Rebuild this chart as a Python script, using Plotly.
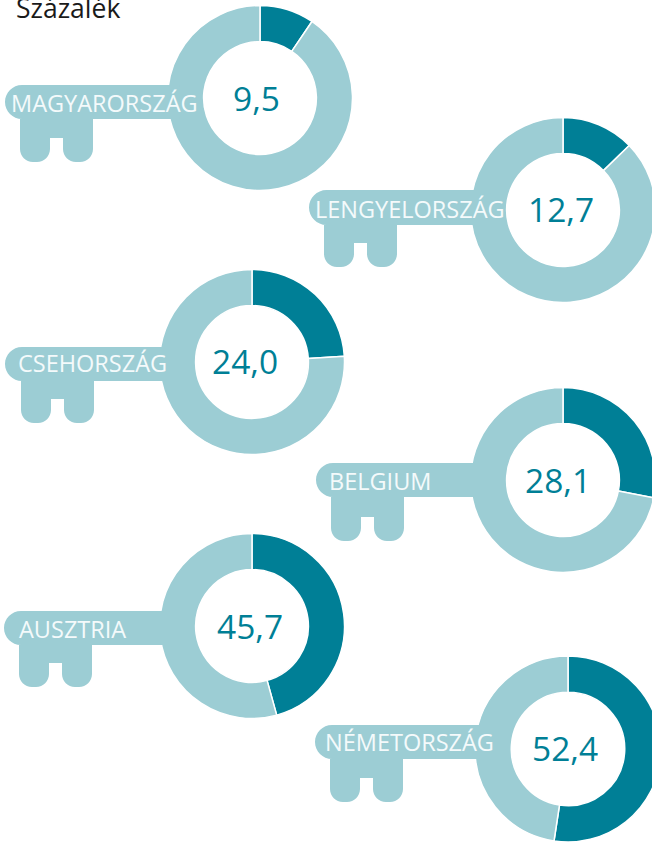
import plotly.graph_objects as go

countries = ["MAGYARORSZÁG", "LENGYELORSZÁG", "CSEHORSZÁG", "BELGIUM", "AUSZTRIA", "NÉMETORSZÁG"]
values = [9.5, 12.7, 24.0, 28.1, 45.7, 52.4]
value_labels = ["9,5", "12,7", "24,0", "28,1", "45,7", "52,4"]
title_text = "Százalék"

W, H = 672, 843
DARK, LIGHT = "#007f96", "#9ccdd4"
FONT = "Open Sans"

# layout in page pixels: ring centre and radius
rings = [(260, 98, 92.5), (563, 210, 92.5), (252, 362, 92.5),
         (563, 480, 92.5), (252, 626, 92.5), (568, 749, 93)]
# key: head left, head top, head bottom, legs left, legs bottom
keys = [(5, 85, 119, 20, 162), (309, 190, 225, 324, 267), (5, 347, 381, 21, 423),
        (316, 463, 497, 331, 541), (4, 611, 645, 19, 687), (315, 725, 759, 330, 802)]
label_x = [104.5, 410, 92.5, 380, 72, 409.5]
label_y = [103, 209, 363, 481, 629, 742]
number_x = [256.5, 561, 245, 557.5, 250, 565]
number_y = [98, 209, 361, 480, 626, 748]


def fx(x):
    return x / W


def fy(y):
    return 1 - y / H


def corner(x0, y0, cx, cy, x1, y1):
    k = 0.55
    return ("C", x0 + (cx - x0) * k, y0 + (cy - y0) * k, x1 + (cx - x1) * k, y1 + (cy - y1) * k, x1, y1)


def key_path(left, top, bottom, legs, end, right):
    r = (bottom - top) / 2
    leg_w, gap = 30, 13
    lr = 13
    notch = end - 24
    a = legs + 2 * leg_w + gap
    b = legs + leg_w + gap
    c = legs + leg_w
    pts = [("M", left + r, top), ("L", right, top), ("L", right, bottom), ("L", a, bottom),
           ("L", a, end - lr), corner(a, end - lr, a, end, a - lr, end),
           ("L", b + lr, end), corner(b + lr, end, b, end, b, end - lr),
           ("L", b, notch), ("L", c, notch),
           ("L", c, end - lr), corner(c, end - lr, c, end, c - lr, end),
           ("L", legs + lr, end), corner(legs + lr, end, legs, end, legs, end - lr),
           ("L", legs, bottom), ("L", left + r, bottom),
           corner(left + r, bottom, left, bottom, left, bottom - r),
           corner(left, top + r, left, top, left + r, top)]
    out = []
    for p in pts:
        nums = p[1:]
        coords = " ".join(f"{fx(nums[i]):.5f},{fy(nums[i + 1]):.5f}" for i in range(0, len(nums), 2))
        out.append(f"{p[0]} {coords}")
    return " ".join(out) + " Z"


fig = go.Figure()
shapes, annotations = [], []
for i, (name, val, lab, (cx, cy, r), k) in enumerate(zip(countries, values, value_labels, rings, keys)):
    fig.add_trace(go.Pie(
        values=[val, 100 - val], labels=[name + " igen", name + " nem"],
        hole=0.61, sort=False, direction="clockwise", rotation=0,
        marker=dict(colors=[DARK, LIGHT], line=dict(color="white", width=1.5)),
        textinfo="none", hoverinfo="label+value", showlegend=False,
        domain=dict(x=[fx(cx - r), fx(cx + r)], y=[fy(cy + r), fy(cy - r)]),
    ))
    shapes.append(dict(type="path", xref="paper", yref="paper", layer="above",
                       path=key_path(*k, cx - r + 12), fillcolor=LIGHT, line=dict(width=0)))
    annotations.append(dict(text=name, x=fx(label_x[i]), y=fy(label_y[i]), xref="paper", yref="paper", showarrow=False,
                            xanchor="center", yanchor="middle", font=dict(family=FONT, size=23.5, color="#f4fafb")))
    annotations.append(dict(text=lab, x=fx(number_x[i]), y=fy(number_y[i]), xref="paper", yref="paper", showarrow=False,
                            xanchor="center", yanchor="middle", font=dict(family=FONT, size=33.5, color=DARK)))

annotations.append(dict(text=title_text, x=fx(14), y=fy(8), xref="paper", yref="paper", showarrow=False,
                        xanchor="left", yanchor="middle", font=dict(family=FONT, size=26.5, color="#1a1a1a")))

fig.update_layout(width=W, height=H, margin=dict(l=0, r=0, t=0, b=0), paper_bgcolor="white",
                  plot_bgcolor="white", shapes=shapes, annotations=annotations, showlegend=False)
fig.write_html("out.html", config={"displayModeBar": False},
               post_script="document.documentElement.style.overflow='hidden';document.body.style.overflow='hidden';document.body.style.margin='0';")
